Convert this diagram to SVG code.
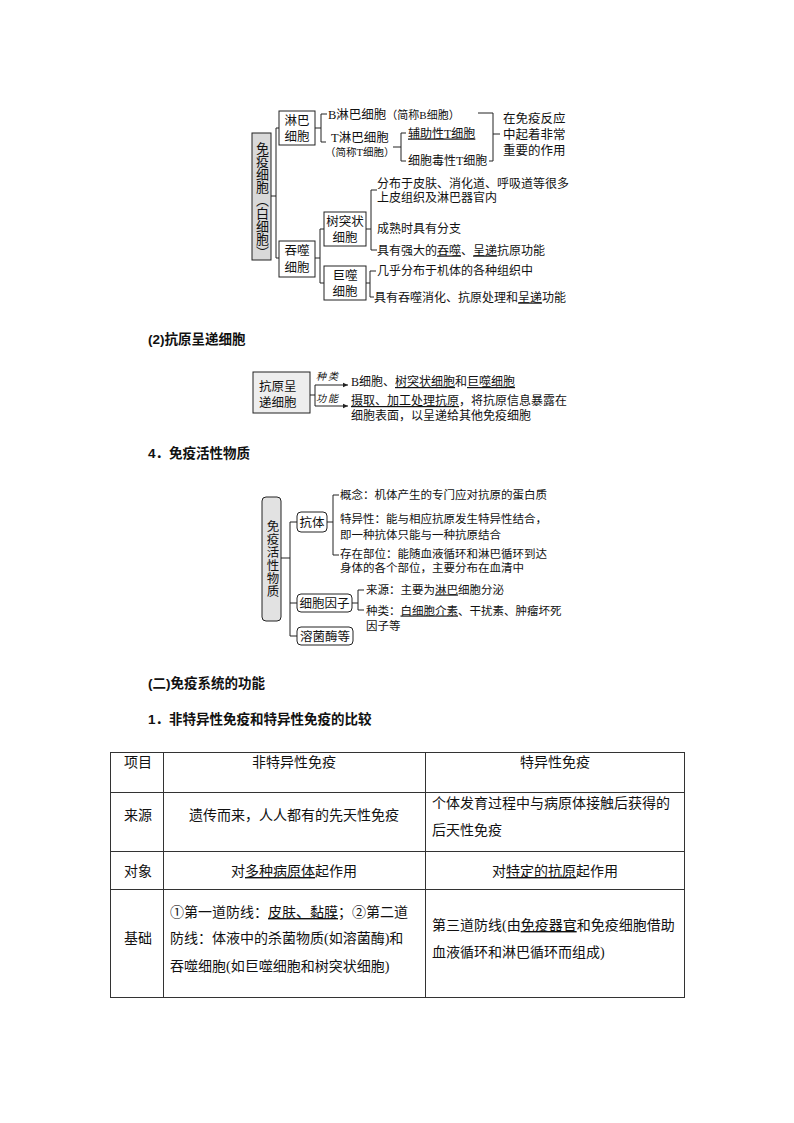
<svg xmlns="http://www.w3.org/2000/svg" width="794" height="1123" viewBox="0 0 794 1123">
<style>
.t{font-family:"Liberation Serif","Noto Sans CJK SC",serif;fill:#111;font-size:12px}
.s{font-size:10.5px}
.b{font-size:12.5px}
.h{font-family:"Liberation Sans","Noto Sans CJK SC",sans-serif;font-weight:bold;font-size:13.5px;fill:#111}
.tb{font-family:"Liberation Serif","Noto Sans CJK SC",serif;font-size:14px;fill:#111}
.ln{stroke:#222;stroke-width:1;fill:none}
.box{fill:#fff;stroke:#222;stroke-width:1}
.g1{fill:#d9d9d9;stroke:#222;stroke-width:1}
.g2{fill:#eeeeee;stroke:#222;stroke-width:1}
.vt{writing-mode:vertical-rl}
.u{text-decoration:underline}
.c{text-anchor:middle}
</style>
<defs>
<marker id="ar" markerWidth="6" markerHeight="6" refX="5" refY="3" orient="auto" markerUnits="userSpaceOnUse">
<path d="M0,0.8 L5,3 L0,5.2 Z" fill="#222"/>
</marker>
</defs>
<rect width="794" height="1123" fill="#fff"/>

<!-- connectors -->
<g id="connectors" class="ln">
<!-- immune cells -->
<path d="M271 196 H276 M276 128 V258 M276 128 H279 M276 258 H279"/>
<path d="M315 128 H321 M321 114 V142 M321 114 H327 M321 142 H326"/>
<path d="M393 147 H401 M401 133 V161 M401 133 H406 M401 161 H406"/>
<path d="M478 113 H493 V161 H489 M493 134 H500"/>
<path d="M315 258 H320 M320 229 V283 M320 229 H324 M320 283 H324"/>
<path d="M366 229 H371 M371 190 V250 M371 190 H377 M371 250 H377"/>
<path d="M366 283 H370 M370 271 V297 M370 271 H376 M370 297 H374"/>
<!-- APC -->
<path d="M310 395 H315 M315 385 V406"/>
<path d="M315 385 H348" marker-end="url(#ar)"/>
<path d="M315 406 H348" marker-end="url(#ar)"/>
<!-- active substances -->
<path d="M281 558 H290 M290 522 V636 M290 522 H297 M290 603 H297 M290 636 H297"/>
<path d="M327 522 H333 M333 495 V555 M333 495 H339 M333 555 H339"/>
<path d="M352 603 H358 M358 590 V610 M358 590 H364 M358 610 H364"/>
</g>

<!-- Immune cells diagram -->
<g id="immune-cells">
<rect class="g1" x="252" y="133" width="19" height="127"/>
<text class="t vt" x="261.5" y="142" style="font-size:13px">免疫细胞（白细胞）</text>
</g>
<g id="lymph">
<rect class="box" x="279" y="111" width="36" height="34"/>
<text class="t b c" x="297" y="124.5">淋巴</text>
<text class="t b c" x="297" y="140.5">细胞</text>
</g>
<g id="bcell"><text class="t b" x="328" y="118.5">B淋巴细胞<tspan style="font-size:11px">（简称B细胞）</tspan></text></g>
<g id="tcell">
<text class="t b" x="331" y="141.5">T淋巴细胞</text>
<text class="t s" x="325" y="156">（简称T细胞）</text>
</g>
<g id="helper"><text class="t" x="408" y="137.5"><tspan class="u">辅助性T细胞</tspan></text></g>
<g id="cytotoxic"><text class="t" x="408" y="165">细胞毒性T细胞</text></g>
<g id="role">
<text class="t b" x="503" y="122.5">在免疫反应</text>
<text class="t b" x="503" y="138.5">中起着非常</text>
<text class="t b" x="503" y="154.5">重要的作用</text>
</g>
<g id="phago">
<rect class="box" x="279" y="241" width="36" height="36"/>
<text class="t b c" x="297" y="254.5">吞噬</text>
<text class="t b c" x="297" y="271.5">细胞</text>
</g>
<g id="dendritic">
<rect class="box" x="324" y="212" width="42" height="34"/>
<text class="t b c" x="345" y="225.5">树突状</text>
<text class="t b c" x="345" y="241.5">细胞</text>
</g>
<g id="dendritic-info">
<text class="t" x="377" y="187.5">分布于皮肤、消化道、呼吸道等很多</text>
<text class="t" x="377" y="201.5">上皮组织及淋巴器官内</text>
<text class="t" x="377" y="233">成熟时具有分支</text>
<text class="t" x="377" y="254.5">具有强大的<tspan class="u">吞噬</tspan>、<tspan class="u">呈递</tspan>抗原功能</text>
</g>
<g id="macro">
<rect class="box" x="324" y="266" width="42" height="34"/>
<text class="t b c" x="345" y="279.5">巨噬</text>
<text class="t b c" x="345" y="295.5">细胞</text>
</g>
<g id="macro-info">
<text class="t" x="377" y="274.5">几乎分布于机体的各种组织中</text>
<text class="t" x="374" y="301.5">具有吞噬消化、抗原处理和<tspan class="u">呈递</tspan>功能</text>
</g>

<!-- heading (2) -->
<text class="h" x="148" y="344">(2)抗原呈递细胞</text>

<g id="apc">
<rect class="g2" x="253" y="372" width="57" height="41"/>
<text class="t b" x="259" y="391">抗原呈</text>
<text class="t b" x="259" y="407">递细胞</text>
</g>
<g id="apc-labels">
<text class="t" x="316" y="380" style="font-size:10px;font-style:italic;letter-spacing:2px">种类</text>
<text class="t" x="316" y="402" style="font-size:10px;font-style:italic;letter-spacing:2px">功能</text>
</g>
<g id="apc-kind"><text class="t" x="351" y="386">B细胞、<tspan class="u">树突状细胞</tspan>和<tspan class="u">巨噬细胞</tspan></text></g>
<g id="apc-func">
<text class="t" x="351" y="405"><tspan class="u">摄取、加工处理抗原</tspan>，将抗原信息暴露在</text>
<text class="t" x="351" y="419.5">细胞表面，以呈递给其他免疫细胞</text>
</g>

<!-- heading 4 -->
<text class="h" x="148" y="458">4．免疫活性物质</text>

<g id="active">
<rect class="g1" x="262" y="497" width="19" height="124" rx="4" style="fill:#e2e2e2"/>
<text class="t vt" x="271.5" y="519.5" style="font-size:12.5px;letter-spacing:0.7px">免疫活性物质</text>
</g>
<g id="antibody">
<rect class="box" x="297" y="512" width="30" height="20" rx="4"/>
<text class="t b c" x="312" y="526.5">抗体</text>
</g>
<g id="antibody-info">
<text class="t" x="340" y="498.5" style="font-size:11.5px">概念：机体产生的专门应对抗原的蛋白质</text>
<text class="t" x="340" y="522.5" style="font-size:11.5px">特异性：能与相应抗原发生特异性结合，</text>
<text class="t" x="340" y="538.5" style="font-size:11.5px">即一种抗体只能与一种抗原结合</text>
<text class="t" x="340" y="557.5" style="font-size:11.5px">存在部位：能随血液循环和淋巴循环到达</text>
<text class="t" x="340" y="571.5" style="font-size:11.5px">身体的各个部位，主要分布在血清中</text>
</g>
<g id="cytokine">
<rect class="box" x="297" y="594" width="55" height="18" rx="4"/>
<text class="t b c" x="324.5" y="607.5">细胞因子</text>
</g>
<g id="cytokine-info">
<text class="t" x="366" y="593.5" style="font-size:11.5px">来源：主要为<tspan class="u">淋巴</tspan>细胞分泌</text>
<text class="t" x="366" y="614.5" style="font-size:11.5px">种类：<tspan class="u">白细胞介素</tspan>、干扰素、肿瘤坏死</text>
<text class="t" x="366" y="630" style="font-size:11.5px">因子等</text>
</g>
<g id="lysozyme">
<rect class="box" x="297" y="627" width="56" height="18" rx="4"/>
<text class="t b c" x="325" y="640.5">溶菌酶等</text>
</g>

<!-- headings -->
<text class="h" x="148" y="688">(二)免疫系统的功能</text>
<text class="h" x="148" y="724">1．非特异性免疫和特异性免疫的比较</text>

<!-- table -->
<g id="table">
<g class="ln" style="stroke:#333">
<rect x="110.5" y="752.5" width="574" height="245"/>
<path d="M163.5 752.5 V997.5 M425.5 752.5 V997.5"/>
<path d="M110.5 792.5 H684.5 M110.5 851.5 H684.5 M110.5 889.5 H684.5"/>
</g>
<text class="tb c" x="138" y="767">项目</text>
<text class="tb c" x="294" y="767">非特异性免疫</text>
<text class="tb c" x="555" y="767">特异性免疫</text>
<text class="tb c" x="138" y="820">来源</text>
<text class="tb c" x="294" y="820">遗传而来，人人都有的先天性免疫</text>
<text class="tb" x="432" y="808">个体发育过程中与病原体接触后获得的</text>
<text class="tb" x="432" y="835">后天性免疫</text>
<text class="tb c" x="138" y="876">对象</text>
<text class="tb c" x="294" y="876">对<tspan class="u">多种病原体</tspan>起作用</text>
<text class="tb c" x="555" y="876">对<tspan class="u">特定的抗原</tspan>起作用</text>
<text class="tb c" x="138" y="943">基础</text>
<text class="tb" x="170" y="917">①第一道防线：<tspan class="u">皮肤、黏膜</tspan>；②第二道</text>
<text class="tb" x="170" y="943">防线：体液中的杀菌物质(如溶菌酶)和</text>
<text class="tb" x="170" y="971">吞噬细胞(如巨噬细胞和树突状细胞)</text>
<text class="tb" x="432" y="930">第三道防线(由<tspan class="u">免疫器官</tspan>和免疫细胞借助</text>
<text class="tb" x="432" y="957">血液循环和淋巴循环而组成)</text>
</g>
</svg>
